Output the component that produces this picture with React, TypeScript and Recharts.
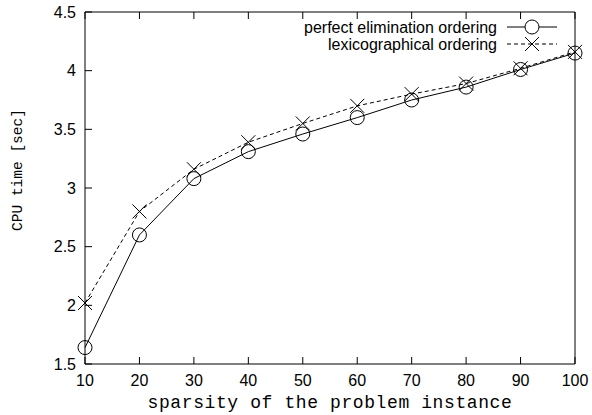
import React from "react";
import { LineChart, Line, XAxis, YAxis, Legend } from "recharts";

const sparsity = [10, 20, 30, 40, 50, 60, 70, 80, 90, 100];
const perfectElimination = [1.64, 2.6, 3.08, 3.31, 3.46, 3.6, 3.75, 3.86, 4.01, 4.15];
const lexicographical = [2.02, 2.8, 3.16, 3.39, 3.55, 3.7, 3.8, 3.89, 4.02, 4.16];
const xTicks = [10, 20, 30, 40, 50, 60, 70, 80, 90, 100];
const yTicks = [1.5, 2, 2.5, 3, 3.5, 4, 4.5];

const data = sparsity.map((x, i) => ({
  x,
  peo: perfectElimination[i],
  lex: lexicographical[i],
}));

const sans = "'Liberation Sans', Arial, Helvetica, sans-serif";
const mono = "'Liberation Mono', 'Courier New', monospace";
const R = 7;

const CircleDot = (props: any) => {
  const { cx, cy, index } = props;
  return <circle key={`c${index}`} cx={cx} cy={cy} r={R} fill="none" stroke="#000" strokeWidth={1} />;
};

const CrossDot = (props: any) => {
  const { cx, cy, index } = props;
  return (
    <g key={`x${index}`} stroke="#000" strokeWidth={1}>
      <line x1={cx - R} y1={cy - R} x2={cx + R} y2={cy + R} />
      <line x1={cx - R} y1={cy + R} x2={cx + R} y2={cy - R} />
    </g>
  );
};

const LegendBox = () => (
  <svg width={330} height={40} style={{ display: "block" }}>
    <g fontFamily={sans} fontSize={16} fill="#000">
      <text x={257} y={10} textAnchor="end" dominantBaseline="central">perfect elimination ordering</text>
      <text x={257} y={27} textAnchor="end" dominantBaseline="central">lexicographical ordering</text>
    </g>
    <line x1={267} y1={10} x2={317} y2={10} stroke="#000" />
    <circle cx={292} cy={10} r={R} fill="#fff" stroke="#000" />
    <line x1={267} y1={27} x2={317} y2={27} stroke="#000" strokeDasharray="4 3" />
    <line x1={292 - R} y1={27 - R} x2={292 + R} y2={27 + R} stroke="#000" />
    <line x1={292 - R} y1={27 + R} x2={292 + R} y2={27 - R} stroke="#000" />
  </svg>
);

const tickStyle = { fill: "#000", fontSize: 16, fontFamily: sans };
const blank = () => "";

export default function App() {
  return (
    <div style={{ position: "absolute", left: 0, top: 0, background: "#fff" }}>
      <LineChart width={592} height={415} data={data} margin={{ top: 11, right: 16, bottom: 21, left: 25 }}>
        <XAxis
          dataKey="x"
          type="number"
          domain={[10, 100]}
          ticks={xTicks}
          height={30}
          tickSize={-7}
          tickMargin={18}
          tick={tickStyle}
          stroke="#000"
          label={{
            value: "sparsity of the problem instance",
            position: "bottom",
            offset: 1,
            style: { fill: "#000", fontSize: 18, fontFamily: mono, letterSpacing: 0.6 },
          }}
        />
        <XAxis
          xAxisId="top"
          orientation="top"
          dataKey="x"
          type="number"
          domain={[10, 100]}
          ticks={xTicks}
          height={1}
          tickSize={-7}
          tickFormatter={blank}
          stroke="#000"
        />
        <YAxis
          type="number"
          domain={[1.5, 4.5]}
          ticks={yTicks}
          width={60}
          tickSize={-7}
          tickMargin={16}
          tick={tickStyle}
          stroke="#000"
          label={{
            content: () => (
              <text
                x={18}
                y={170}
                transform="rotate(-90 18 170)"
                textAnchor="middle"
                dominantBaseline="central"
                fontFamily={mono}
                fontSize={14.5}
                fill="#000"
              >
                CPU time [sec]
              </text>
            ),
          }}
        />
        <YAxis
          yAxisId="right"
          orientation="right"
          type="number"
          domain={[1.5, 4.5]}
          ticks={yTicks}
          width={1}
          tickSize={-7}
          tickFormatter={blank}
          stroke="#000"
        />
        <Legend
          layout="vertical"
          align="center"
          verticalAlign="middle"
          content={() => <LegendBox />}
          wrapperStyle={{ position: "absolute", left: 240, top: 17, width: 330, height: 40 }}
        />
        <Line
          dataKey="peo"
          stroke="#000"
          strokeWidth={1}
          dot={CircleDot}
          activeDot={false}
          isAnimationActive={false}
        />
        <Line
          dataKey="lex"
          stroke="#000"
          strokeWidth={1}
          strokeDasharray="4 3"
          dot={CrossDot}
          activeDot={false}
          isAnimationActive={false}
        />
      </LineChart>
    </div>
  );
}
